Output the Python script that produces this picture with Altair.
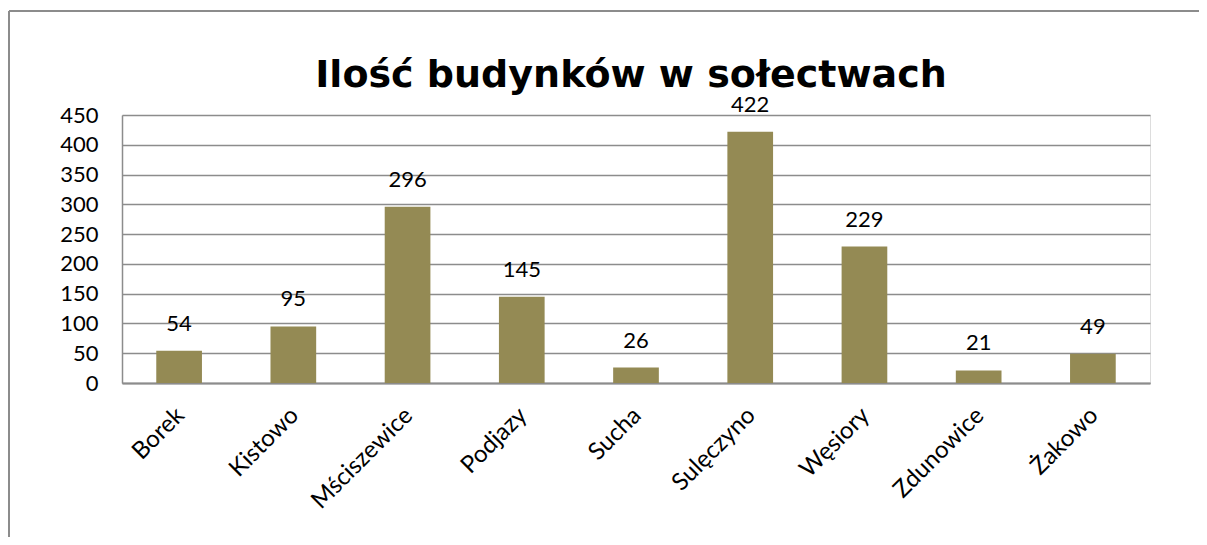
import altair as alt
import pandas as pd

categories = ["Borek", "Kistowo", "Mściszewice", "Podjazy", "Sucha",
              "Sulęczyno", "Węsiory", "Zdunowice", "Żakowo"]
values = [54, 95, 296, 145, 26, 422, 229, 21, 49]
y_ticks = [0, 50, 100, 150, 200, 250, 300, 350, 400, 450]
title_text = "Ilość budynków w sołectwach"

df = pd.DataFrame({"soltectwo": categories, "ilosc": values})

LABEL_FONT = "Lato"
BAR_COLOR = "#948A54"
GRID = "#8C8C8C"

x_enc = alt.X(
    "soltectwo:N", sort=categories, title=None,
    scale=alt.Scale(paddingInner=0.6, paddingOuter=0.3),
    axis=alt.Axis(labelAngle=-45, labelFont=LABEL_FONT, labelFontSize=24,
                  labelColor="#000000", labelPadding=20, labelOffset=-7,
                  ticks=False, domainColor=GRID, domainWidth=2, grid=False,
                  labelAlign="right", labelBaseline="top", labelOverlap=False),
)
y_enc = alt.Y(
    "ilosc:Q", title=None,
    scale=alt.Scale(domain=[0, 450], nice=False),
    axis=alt.Axis(values=y_ticks, labelFont=LABEL_FONT, labelFontSize=22,
                  labelColor="#000000", labelPadding=24, ticks=False,
                  labelOverlap=False, labelBound=False, labelFlush=False,
                  domainColor=GRID, domainWidth=1.5, grid=True,
                  gridColor=GRID, gridWidth=1.3, gridOpacity=1),
)

bars = alt.Chart(df).mark_bar(color=BAR_COLOR).encode(x=x_enc, y=y_enc)

labels = alt.Chart(df).mark_text(
    font=LABEL_FONT, fontSize=22, color="#000000", baseline="middle", dy=-27
).encode(x=x_enc, y=y_enc, text="ilosc:Q")

title_df = pd.DataFrame({"t": [title_text]})
title_mark = alt.Chart(title_df).mark_text(
    font="DejaVu Sans", fontSize=38, fontWeight="bold", color="#000000",
    align="center", baseline="alphabetic"
).encode(x=alt.value(509), y=alt.value(-28), text="t:N")

frame_left = alt.Chart(df).mark_rule(color="#8C8C8C", strokeWidth=1.5).encode(
    x=alt.value(-113), y=alt.value(-104), y2=alt.value(440)
)
frame_top = alt.Chart(df).mark_rule(color="#8C8C8C", strokeWidth=1.5).encode(
    x=alt.value(-113), x2=alt.value(1100), y=alt.value(-104)
)

chart = alt.layer(bars, labels, title_mark, frame_left, frame_top).properties(
    width=1028, height=268,
    autosize=alt.AutoSizeParams(type="none"),
    padding={"left": 114, "top": 107, "right": 49, "bottom": 154},
).configure_view(strokeWidth=0).configure(background="#FFFFFF")

chart.save("out.html", embed_options={"renderer": "svg", "actions": False})
